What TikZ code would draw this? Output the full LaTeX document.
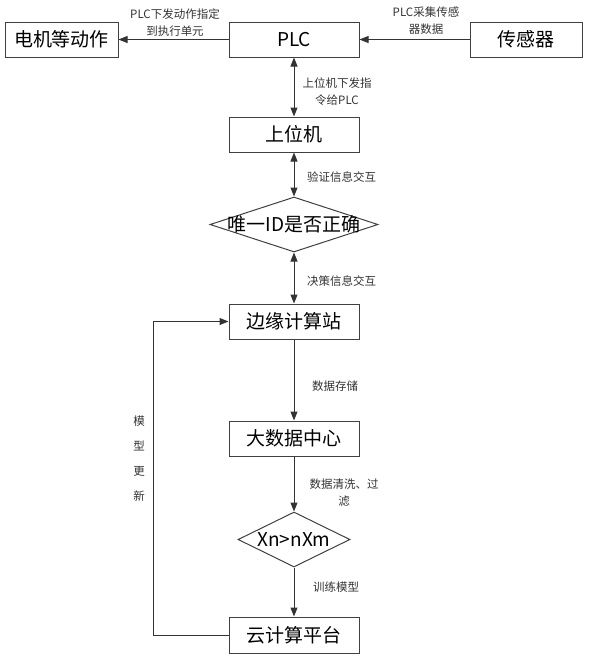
\documentclass[tikz,border=0pt]{standalone}
\usepackage{fontspec}
\setmainfont{Noto Sans CJK SC}
\usetikzlibrary{shapes.geometric,arrows.meta}
\begin{document}
\begin{tikzpicture}[x=1pt,y=-1pt,
  box/.style={draw=black!75,line width=1pt,minimum height=35pt,inner sep=0pt,font=\fontsize{19}{21}\selectfont},
  dia/.style={draw=black!75,line width=1pt,shape=diamond,inner sep=0pt},
  big/.style={font=\fontsize{19}{21}\selectfont},
  lbl/.style={font=\fontsize{11.5}{17}\selectfont,text=black!80,inner sep=0pt},
  conn/.style={draw=black!80,line width=1pt,-{Triangle[length=9pt,width=7pt]}},
  dconn/.style={draw=black!80,line width=1pt,{Triangle[length=9pt,width=7pt]}-{Triangle[length=9pt,width=7pt]}}]
\useasboundingbox (0,0) rectangle (589,657);
% boxes
\node[box,minimum width=113pt] (m) at (61.5,39.5) {电机等动作};
\node[box,minimum width=130pt] (plc) at (294,39.5) {PLC};
\node[box,minimum width=112pt] (sensor) at (526,39.5) {传感器};
\node[box,minimum width=130pt] (upper) at (294,134.5) {上位机};
\node[dia,minimum width=168pt,minimum height=55pt] (d1) at (294,224.5) {};
\node[big] (d1t) at (d1.center) {唯一ID是否正确};
\node[box,minimum width=130pt] (edge) at (294,321.5) {边缘计算站};
\node[box,minimum width=130pt] (bigdata) at (294,438.5) {大数据中心};
\node[dia,minimum width=112pt,minimum height=55pt] (d2) at (294,539.5) {};
\node[big] (d2t) at (d2.center) {Xn>nXm};
\node[box,minimum width=130pt,minimum height=36pt] (cloud) at (294,635) {云计算平台};
\coordinate (fb1) at (153,635);
\coordinate (fb2) at (153,321.5);
% connectors
\draw[conn] (plc.west) -- (m.east);
\draw[conn] (sensor.west) -- (plc.east);
\draw[dconn] (plc.south) -- (upper.north);
\draw[dconn] (upper.south) -- (d1.north);
\draw[dconn] (d1.south) -- (edge.north);
\draw[conn] (edge.south) -- (bigdata.north);
\draw[conn] (bigdata.south) -- (d2.north);
\draw[conn] (d2.south) -- (cloud.north);
\draw[conn] (cloud.west) -- (fb1) -- (fb2) -- (edge.west);
% labels
\node[lbl,align=center] (l1) at (175,22.5) {PLC下发动作指定\\到执行单元};
\node[lbl,align=center] (l2) at (426,21) {PLC采集传感\\器数据};
\node[lbl,align=center] (l3) at (337,91.5) {上位机下发指\\令给PLC};
\node[lbl,anchor=west] (l4) at (307,177) {验证信息交互};
\node[lbl,anchor=west] (l5) at (307,281) {决策信息交互};
\node[lbl,anchor=west] (l6) at (312,386) {数据存储};
\node[lbl,align=center] (l7) at (344,493) {数据清洗、过\\滤};
\node[lbl,anchor=west] (l8) at (313,587) {训练模型};
\node[lbl,align=center,font=\fontsize{11.5}{25}\selectfont] (l9) at (139,459) {模\\型\\更\\新};
\end{tikzpicture}
\end{document}
